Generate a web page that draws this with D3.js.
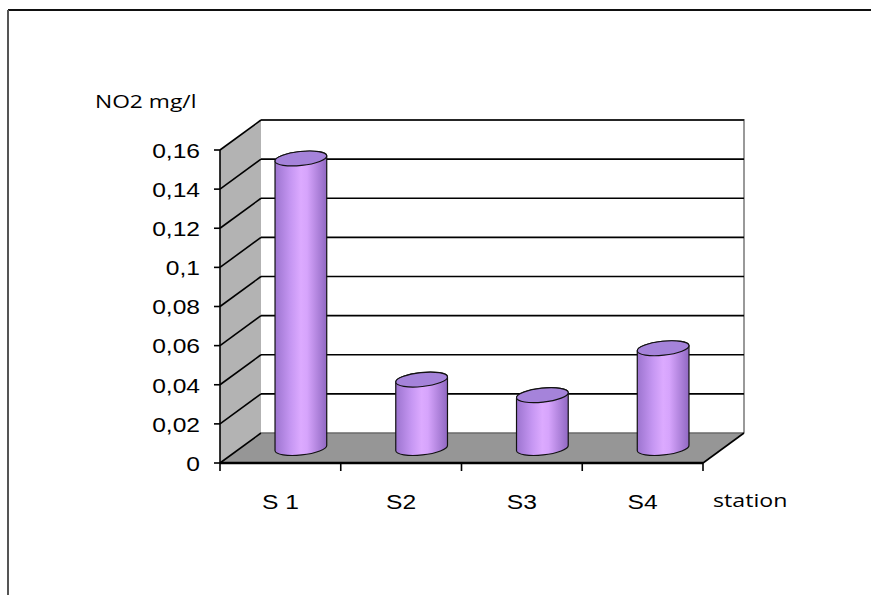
<!DOCTYPE html>
<html>
<head>
<meta charset="utf-8">
<script src="https://cdn.jsdelivr.net/npm/d3@7"></script>
<style>
  html, body { margin: 0; padding: 0; background: #fff; }
  svg { display: block; }
</style>
</head>
<body>
<svg id="chart" width="871" height="595"></svg>
<script>
// NO2 concentration per sampling station
const stations = ["S 1", "S2", "S3", "S4"];
const no2Values = [0.148, 0.035, 0.027, 0.051];
const yTicks = [0, 0.02, 0.04, 0.06, 0.08, 0.1, 0.12, 0.14, 0.16];
const yTickLabels = ["0", "0,02", "0,04", "0,06", "0,08", "0,1", "0,12", "0,14", "0,16"];

const svg = d3.select("#chart");
const W = 871, H = 595;

// page frame
svg.append("line").attr("x1", 8).attr("x2", W).attr("y1", 10).attr("y2", 10)
  .attr("stroke", "#111").attr("stroke-width", 2);
svg.append("line").attr("x1", 8).attr("x2", 8).attr("y1", 10).attr("y2", H)
  .attr("stroke", "#555").attr("stroke-width", 2);

// front plane scales + 3D depth offset
const x = d3.scaleBand().domain(stations).range([220, 703]);
const y = d3.scaleLinear().domain([0, 0.16]).range([463, 150]);
const DX = 41, DY = -30;
const xL = x.range()[0], xR = x.range()[1];

// gradient for the cylinder bodies
const defs = svg.append("defs");
const grad = defs.append("linearGradient").attr("id", "cyl")
  .attr("x1", "0%").attr("x2", "100%").attr("y1", "0%").attr("y2", "0%");
[[0, "#9c74cf"], [0.3, "#c596f2"], [0.5, "#dcaaff"], [0.62, "#d6a4fc"], [1, "#9068c2"]]
  .forEach(([o, c]) => grad.append("stop").attr("offset", o).attr("stop-color", c));

// back wall
svg.append("rect")
  .attr("x", xL + DX).attr("y", y(0.16) + DY)
  .attr("width", xR - xL).attr("height", y(0) - y(0.16))
  .attr("fill", "#fff");
svg.append("path")
  .attr("d", `M${xL + DX},${y(0.16) + DY}H${xR + DX}V${y(0) + DY}`)
  .attr("fill", "none").attr("stroke", "#999").attr("stroke-width", 2);

// left wall
svg.append("path")
  .attr("d", `M${xL},${y(0.16)}L${xL + DX},${y(0.16) + DY}L${xL + DX},${y(0) + DY}L${xL},${y(0)}Z`)
  .attr("fill", "#b3b3b3");

// floor
svg.append("path")
  .attr("d", `M${xL},${y(0)}L${xL + DX},${y(0) + DY}L${xR + DX},${y(0) + DY}L${xR},${y(0)}Z`)
  .attr("fill", "#969696");

// gridlines: diagonal on the side wall, horizontal on the back wall
const grid = svg.append("g").attr("stroke", "#000").attr("stroke-width", 1.6);
yTicks.forEach(v => {
  grid.append("line")
    .attr("x1", xL).attr("y1", y(v)).attr("x2", xL + DX).attr("y2", y(v) + DY);
  if (v > 0) {
    grid.append("line")
      .attr("x1", xL + DX).attr("y1", y(v) + DY).attr("x2", xR + DX).attr("y2", y(v) + DY);
  }
});
svg.append("line")
  .attr("x1", xL + DX).attr("y1", y(0) + DY).attr("x2", xR + DX).attr("y2", y(0) + DY)
  .attr("stroke", "#6a6a6a").attr("stroke-width", 1.5);

// floor right diagonal
svg.append("line").attr("x1", xR).attr("y1", y(0)).attr("x2", xR + DX).attr("y2", y(0) + DY)
  .attr("stroke", "#000").attr("stroke-width", 1.6);

// cylinders
const RX = 26, RY = 7, ROT = -6;
const rad = ROT * Math.PI / 180;
const ox = RX * Math.cos(rad), oy = RX * Math.sin(rad);
const bars = svg.append("g").selectAll("g").data(stations.map((s, i) => ({ s, v: no2Values[i] })))
  .join("g");
bars.each(function (d) {
  const g = d3.select(this);
  const cx = x(d.s) + x.bandwidth() / 2 + DX / 2;
  const cyB = y(0) + DY / 2;
  const cyT = y(d.v) + DY / 2;
  const body = `M${cx - ox},${cyT - oy}` +
    `L${cx - ox},${cyB - oy}` +
    `A${RX},${RY} ${ROT} 0 0 ${cx + ox},${cyB + oy}` +
    `L${cx + ox},${cyT + oy}` +
    `A${RX},${RY} ${ROT} 0 0 ${cx - ox},${cyT - oy}Z`;
  g.append("path").attr("d", body)
    .attr("fill", "url(#cyl)").attr("stroke", "#111").attr("stroke-width", 1.2);
  g.append("ellipse")
    .attr("cx", 0).attr("cy", 0).attr("rx", RX).attr("ry", RY)
    .attr("transform", `translate(${cx},${cyT}) rotate(${ROT})`)
    .attr("fill", "#a583da").attr("stroke", "#111").attr("stroke-width", 1.2);
});

// value axis line + ticks
const axis = svg.append("g").attr("stroke", "#000").attr("stroke-width", 1.6);
axis.append("line").attr("x1", xL).attr("x2", xL).attr("y1", y(0.16)).attr("y2", y(0));
yTicks.forEach(v => {
  axis.append("line").attr("x1", xL - 6).attr("x2", xL).attr("y1", y(v)).attr("y2", y(v));
});
// category axis line + ticks
axis.append("line").attr("x1", xL).attr("x2", xR).attr("y1", y(0)).attr("y2", y(0))
  .attr("stroke-width", 2.5);
const catEdges = stations.map(s => x(s)).concat([xR]);
catEdges.forEach(cx => {
  axis.append("line").attr("x1", cx).attr("x2", cx).attr("y1", y(0)).attr("y2", y(0) + 8);
});

// tick labels
const SX = 1.2;
svg.append("g").selectAll("text").data(yTicks).join("text")
  .attr("transform", (v) => `translate(200,${y(v) + 1}) scale(${SX},1)`)
  .attr("text-anchor", "end").attr("dominant-baseline", "central")
  .attr("font-family", "Liberation Sans, Arial, sans-serif").attr("font-size", 20.5)
  .attr("fill", "#000")
  .text((v, i) => yTickLabels[i]);

svg.append("g").selectAll("text").data(stations).join("text")
  .attr("transform", s => `translate(${x(s) + x.bandwidth() / 2},${y(0) + 46}) scale(${SX},1)`)
  .attr("text-anchor", "middle")
  .attr("font-family", "Liberation Sans, Arial, sans-serif").attr("font-size", 20.5)
  .attr("fill", "#000")
  .text(s => s);

// axis titles
svg.append("text")
  .attr("transform", `translate(95,108) scale(1.2,1)`)
  .attr("font-family", "Open Sans, sans-serif").attr("font-size", 19)
  .attr("fill", "#000").text("NO2 mg/l");
svg.append("text")
  .attr("transform", `translate(713,507) scale(1.22,1)`)
  .attr("font-family", "Open Sans, sans-serif").attr("font-size", 19)
  .attr("fill", "#000").text("station");
</script>
</body>
</html>
